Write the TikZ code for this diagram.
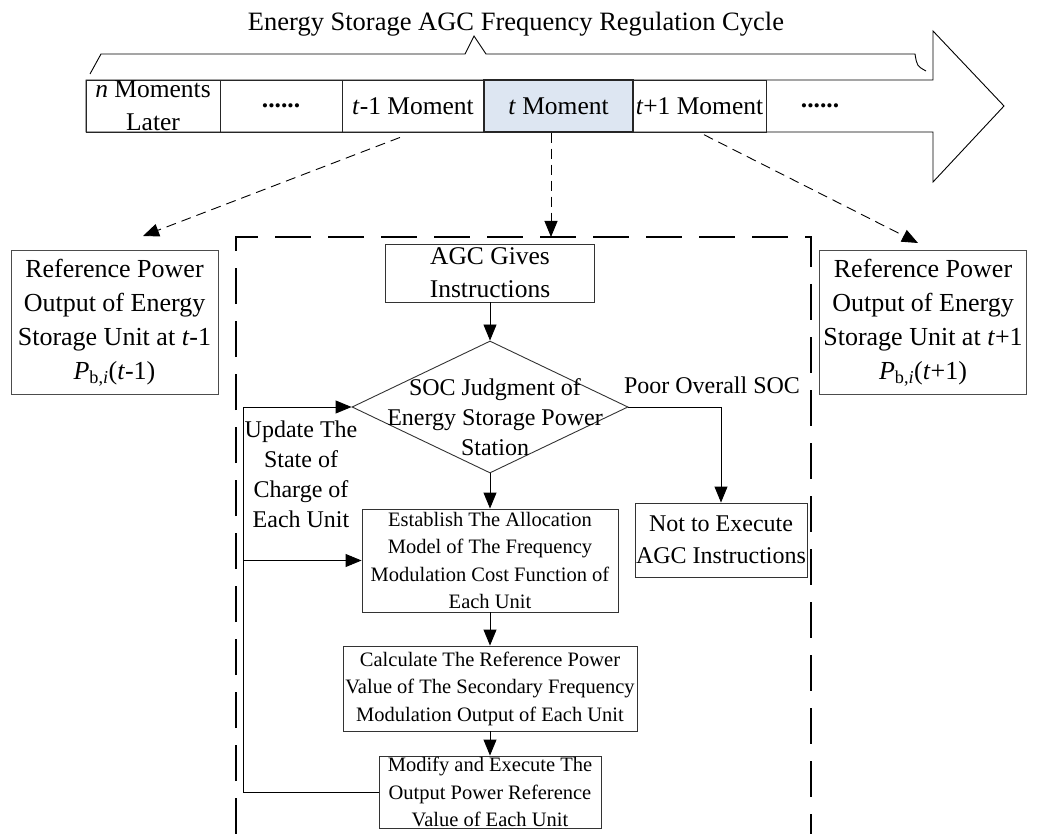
\documentclass[tikz,border=0pt]{standalone}
\usepackage{fontspec}
\setmainfont{Liberation Serif}
\usepackage{xcolor}
\usepackage{tikz}
\usetikzlibrary{shapes.geometric,arrows.meta,positioning,calc}
\definecolor{nowblue}{HTML}{DDE6F2}

\begin{document}
\begin{tikzpicture}[
    x=1pt, y=-1pt,
    big/.style={font=\fontsize{26}{34}\selectfont},
    mid/.style={font=\fontsize{24}{30}\selectfont},
    small/.style={font=\fontsize{20.5}{27.5}\selectfont},
    cell/.style={rectangle, draw=black!85, line width=0.9pt, minimum height=52pt, inner sep=0pt, font=\fontsize{25.5}{33}\selectfont},
    refbox/.style={rectangle, draw=black!70, line width=1pt, minimum width=207pt, minimum height=143pt, inner sep=0pt, align=center, big},
    proc/.style={rectangle, draw=black!80, line width=0.9pt, inner sep=0pt, align=center},
    arrow/.style={-{Triangle[length=16pt,width=13pt]}, line width=0.9pt},
    dasharrow/.style={arrow, dash pattern=on 10pt off 6pt}
]
    \useasboundingbox (0,0) rectangle (1041,834);

    % Time axis
    \node[font=\fontsize{26.5}{30}\selectfont, anchor=base] (title) at (516,31) {Energy Storage AGC Frequency Regulation Cycle};
    \draw[line width=0.9pt] (90,74) -- (101,54) -- (465,54) -- (474,36) -- (486,54) -- (915,54) .. controls (917,66) .. (926,71);
    \draw[line width=0.9pt, fill=white] (86,80) -- (933,80) -- (933,31) -- (1004,106) -- (933,182) -- (933,132) -- (86,132) -- cycle;

    \node[cell, minimum width=134pt, align=center] (later) at (153,106) {\textit{n} Moments\\Later};
    \node[cell, minimum width=122pt] (dotsa) at (281,106) {\textbf{......}};
    \node[cell, minimum width=142pt] (prev) at (413,106) {\textit{t}-1 Moment};
    \node[cell, minimum width=149pt, fill=nowblue, line width=1.4pt] (now) at (558.5,106) {\textit{t} Moment};
    \node[cell, minimum width=133pt] (next) at (699.5,106) {\textit{t}+1 Moment};
    \node[font=\fontsize{25.5}{33}\selectfont, inner sep=0pt] (dotsb) at (820,106) {\textbf{......}};

    % Neighbouring moments
    \node[refbox] (prevref) at (114.5,322.5) {Reference Power\\Output of Energy\\Storage Unit at \textit{t}-1\\\textit{P}\textsubscript{b,\textit{i}}(\textit{t}-1)};
    \node[refbox] (nextref) at (923,322.5) {Reference Power\\Output of Energy\\Storage Unit at \textit{t}+1\\\textit{P}\textsubscript{b,\textit{i}}(\textit{t}+1)};

    \coordinate (prevtip) at (143,236);
    \coordinate (nowtip) at (551,237);
    \coordinate (nexttip) at (918,243);
    \draw[dasharrow, shorten <=14pt] (prev.south) -- (prevtip);
    \draw[dasharrow] (now.south -| nowtip) -- (nowtip);
    \draw[dasharrow, shorten <=5pt] (next.south) -- (nexttip);

    % Current moment
    \draw[line width=2.5pt, dash pattern=on 36pt off 17pt] (236,834) -- (236,237) -- (811,237) -- (811,834);

    \node[proc, font=\fontsize{25.5}{33}\selectfont, minimum width=209pt, minimum height=58pt] (agc) at (490,273) {AGC Gives\\Instructions};
    \node[diamond, draw=black!80, line width=0.9pt, minimum width=276pt, minimum height=132pt, inner sep=0pt] (judge) at (490,407) {};
    \node[mid, align=center] (judgetxt) at (495,417) {SOC Judgment of\\Energy Storage Power\\Station};
    \node[mid] (poor) at (712,385) {Poor Overall SOC};
    \node[proc, font=\fontsize{24}{32}\selectfont, minimum width=172pt, minimum height=74pt] (notexec) at (721,540) {Not to Execute\\AGC Instructions};
    \node[mid, align=center] (update) at (301,474) {Update The\\State of\\Charge of\\Each Unit};
    \node[proc, small, minimum width=256pt, minimum height=103pt] (establish) at (490,560.5) {Establish The Allocation\\Model of The Frequency\\Modulation Cost Function of\\Each Unit};
    \node[proc, small, minimum width=294pt, minimum height=85pt] (calc) at (490,688.5) {Calculate The Reference Power\\Value of The Secondary Frequency\\Modulation Output of Each Unit};
    \node[proc, small, minimum width=222pt, minimum height=72pt] (modify) at (490,792) {Modify and Execute The\\Output Power Reference\\Value of Each Unit};

    \draw[arrow] (agc) -- (judge);
    \draw[arrow] (judge) -- (establish);
    \draw[arrow] (establish) -- (calc);
    \draw[arrow] (calc) -- (modify);
    \draw[arrow] (judge.east) -| (notexec.north);

    \coordinate (loopx) at (243,795);
    \draw[arrow] (modify.west) -- (modify.west -| loopx) |- (judge.west);
    \draw[arrow] (modify.west -| loopx) |- (establish.west);

\end{tikzpicture}
\end{document}
